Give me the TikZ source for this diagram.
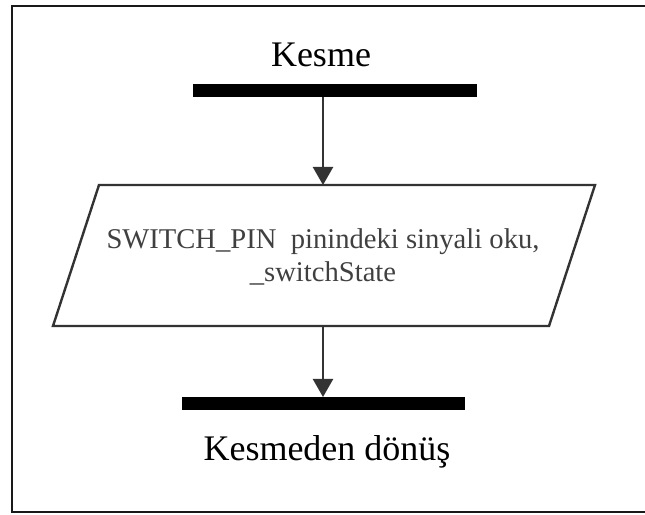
\documentclass[tikz,border=0pt]{standalone}
\usepackage{fontspec}
\setmainfont{Liberation Serif}
\usepackage{tikz}
\usetikzlibrary{positioning}
\usetikzlibrary{arrows.meta}

\tikzset{
  bar/.style={rectangle, fill=black, inner sep=0, minimum height=13pt},
  label/.style={inner sep=0, font=\fontsize{36}{43}\selectfont},
  txt/.style={inner sep=0, align=center, text=black!75,
    font=\fontsize{28.6}{33}\selectfont},
  box/.style={draw=black!80, line width=2.4pt, line join=miter},
  flow/.style={draw=black!80, line width=2.4pt, -{Triangle[length=18pt,width=20pt]}},
}

\begin{document}
\begin{tikzpicture}[x=1pt, y=1pt]
    \useasboundingbox (0,0) rectangle (645,514);
    \draw[black!90, line width=2.6pt] (12,2) rectangle (660,508);

    % input/output block
    \coordinate (tl) at (99,329);
    \coordinate (tr) at (595,329);
    \coordinate (br) at (549,188);
    \coordinate (bl) at (53,188);
    \draw[box] (tl) -- (tr) -- (br) -- (bl) -- cycle;
    \node[txt] (read) at (323,257) {SWITCH\_PIN\ \ pinindeki sinyali oku,\\\_switchState};

    \node[bar, minimum width=284pt, above=88pt of read |- tl, xshift=12pt] (start) {};
    \node[bar, minimum width=283pt, below=71pt of read |- bl] (stop) {};
    \node[label, above=17pt of start, xshift=-14pt] (irq) {Kesme};
    \node[label, below=25pt of stop, xshift=4pt] (ret) {Kesmeden dönüş};

    % Edges
    \draw[flow] (start.south -| read) -- (read |- tl);
    \draw[flow] (read |- bl) -- (read |- stop.north);
\end{tikzpicture}
\end{document}
